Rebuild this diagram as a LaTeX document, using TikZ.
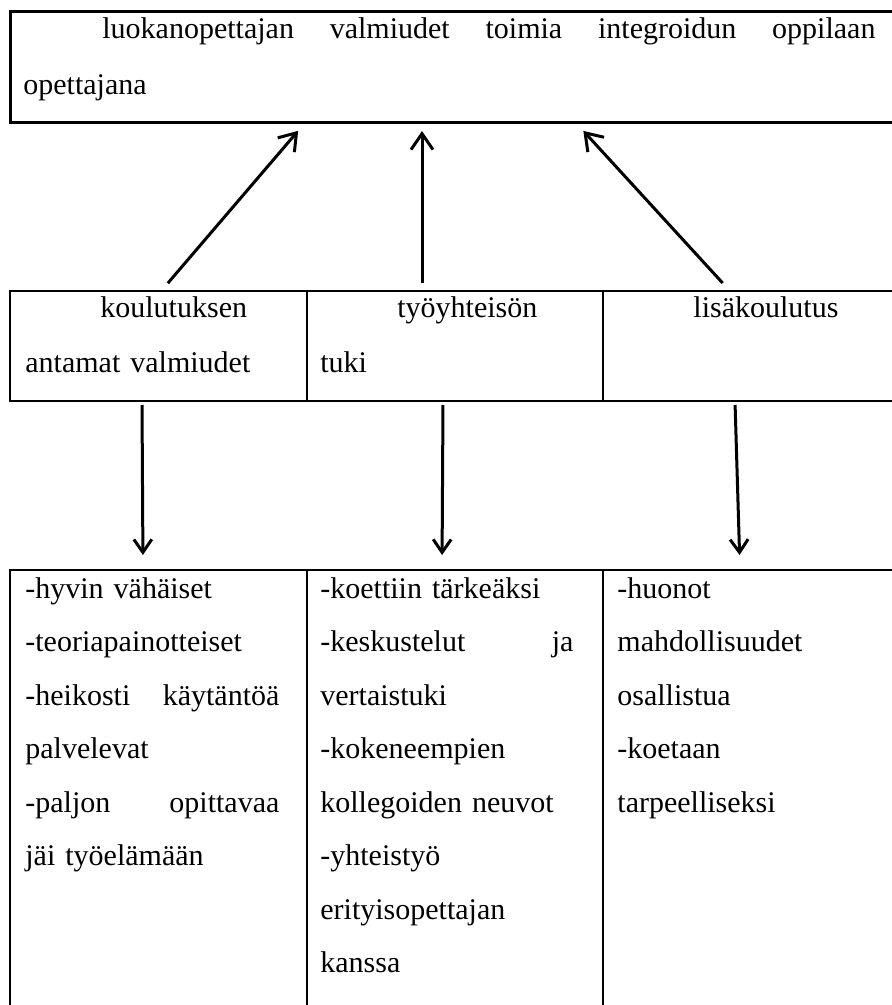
\documentclass[tikz,border=0pt]{standalone}
\usepackage{fontspec}
\setmainfont{Liberation Serif}
\usetikzlibrary{arrows.meta, positioning}
\tikzset{
    cell/.style={
        rectangle, draw=black, line width=1pt, inner sep=0pt, anchor=north west
    },
    goalcell/.style={cell, line width=1.5pt},
    celltext/.style={inner sep=0pt, anchor=north west, align=left},
    goaltext/.style={celltext, font=\fontsize{15}{28}\selectfont},
    midtext/.style={celltext, font=\fontsize{15}{27.5}\selectfont},
    bottext/.style={celltext, font=\fontsize{15}{26.75}\selectfont},
    uparrow/.style={-{Straight Barb[length=8pt,width=11pt]}, line width=1.5pt},
    downarrow/.style={-{Straight Barb[length=6.5pt,width=9pt]}, line width=1.5pt}
}

\begin{document}
\begin{tikzpicture}[x=0.5pt, y=-0.5pt]
\useasboundingbox (0,0) rectangle (891,1005);

% === GOAL ===
\node (goal) [goalcell, minimum width=443pt, minimum height=55.5pt] at (9,10) {};
\node (goaltxt) [goaltext, text width=426pt] at (23,10) {\rule{0pt}{14pt}\makebox[426pt][l]{\hspace*{39.5pt}luokanopettajan\hfill valmiudet\hfill toimia\hfill integroidun\hfill oppilaan}\\opettajana};

% === SOURCES ===
\node (edu)   [cell, minimum width=148.5pt, minimum height=55pt] at (9,290) {};
\node (work)  [cell, minimum width=148pt, minimum height=55pt] at (306,290) {};
\node (extra) [cell, minimum width=146.5pt, minimum height=55pt] at (602,290) {};

\node (edutxt)   [midtext, text width=127pt] at (25,290) {\rule{0pt}{13.5pt}\hspace*{37.5pt}koulutuksen\\antamat valmiudet};
\node (worktxt)  [midtext, text width=127pt] at (320,290) {\rule{0pt}{13.5pt}\hspace*{38.5pt}työyhteisön\\tuki};
\node (extratxt) [midtext, text width=127pt] at (617,290) {\rule{0pt}{13.5pt}\hspace*{38pt}lisäkoulutus};

% === FINDINGS ===
\node (eduout)   [cell, minimum width=148.5pt, minimum height=220.5pt] at (9,569) {};
\node (workout)  [cell, minimum width=148pt, minimum height=220.5pt] at (306,569) {};
\node (extraout) [cell, minimum width=146.5pt, minimum height=220.5pt] at (602,569) {};

\node (eduouttxt) [bottext, text width=127pt] at (25,569) {\rule{0pt}{14.5pt}-hyvin vähäiset\\
    -teoriapainotteiset\\
    \makebox[127pt][l]{-heikosti\hfill käytäntöä}\\
    palvelevat\\
    \makebox[127pt][l]{-paljon\hfill opittavaa}\\
    jäi työelämään};
\node (workouttxt) [bottext, text width=127pt] at (320,569) {\rule{0pt}{14.5pt}-koettiin tärkeäksi\\
    \makebox[126.5pt][l]{-keskustelut\hfill ja}\\
    vertaistuki\\
    -kokeneempien\\
    kollegoiden neuvot\\
    -yhteistyö\\
    erityisopettajan\\
    kanssa};
\node (extraouttxt) [bottext, text width=127pt] at (617,569) {\rule{0pt}{14.5pt}-huonot\\
    mahdollisuudet\\
    osallistua\\
    -koetaan\\
    tarpeelliseksi};

% === ARROWS ===
\draw [uparrow, shorten <=4.5pt, shorten >=4.5pt] ([xshift=76.5pt]edu.north west) -- ([xshift=147.5pt]goal.south west);
\draw [uparrow, shorten <=3.5pt, shorten >=3.5pt] ([xshift=58pt]work.north west) -- ([xshift=206.5pt]goal.south west);
\draw [uparrow, shorten <=4.7pt, shorten >=4.7pt] ([xshift=63.5pt]extra.north west) -- ([xshift=284pt]goal.south west);

\draw [downarrow, shorten <=1.5pt, shorten >=7pt] ([xshift=66.5pt]edu.south west) -- ([xshift=67pt]eduout.north west);
\draw [downarrow, shorten <=1.5pt, shorten >=7pt] ([xshift=68.5pt]work.south west) -- ([xshift=68pt]workout.north west);
\draw [downarrow, shorten <=1.5pt, shorten >=7pt] ([xshift=66.5pt]extra.south west) -- ([xshift=69pt]extraout.north west);

\end{tikzpicture}
\end{document}
